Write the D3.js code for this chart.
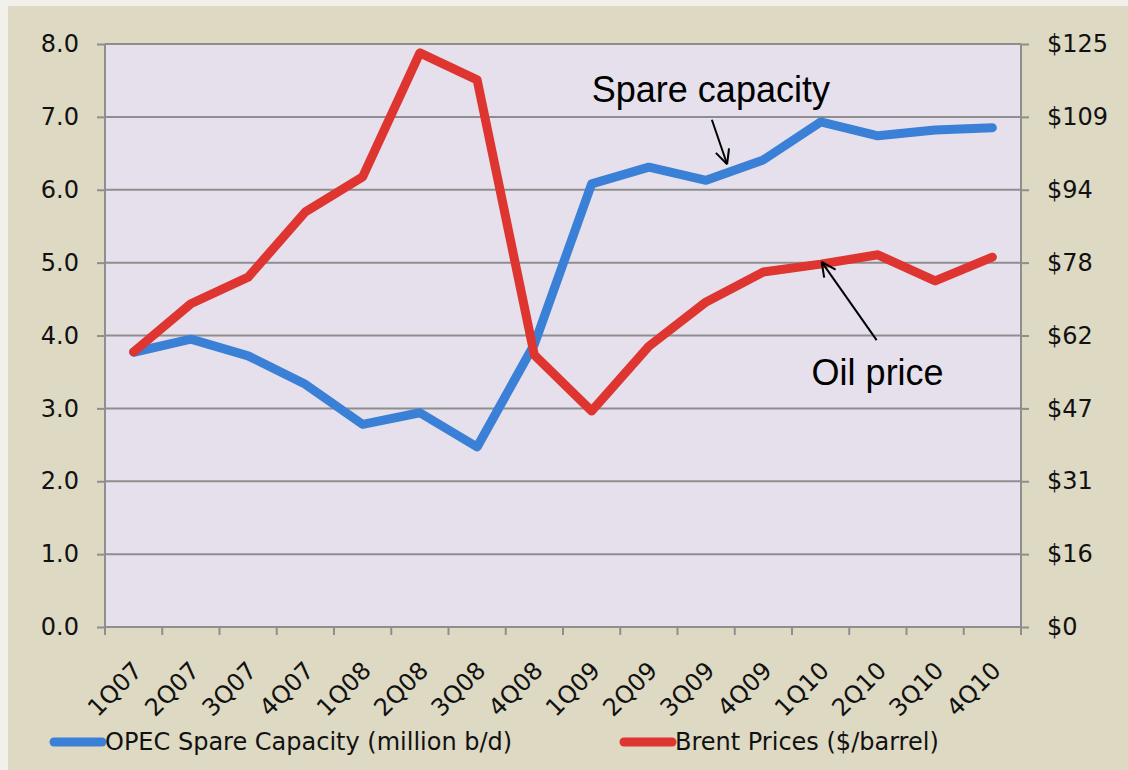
<!DOCTYPE html>
<html>
<head>
<meta charset="utf-8">
<script src="https://d3js.org/d3.v7.min.js"></script>
<style>
  html, body { margin: 0; padding: 0; background: #f1f0ea; }
  svg { display: block; }
</style>
</head>
<body>
<div id="chart"></div>
<script>
// quarters on the x axis
const quarters = ['1Q07', '2Q07', '3Q07', '4Q07', '1Q08', '2Q08', '3Q08', '4Q08',
  '1Q09', '2Q09', '3Q09', '4Q09', '1Q10', '2Q10', '3Q10', '4Q10'];

// OPEC spare capacity, million b/d (left axis)
const spareCapacity = [3.77, 3.95, 3.72, 3.33, 2.78, 2.94, 2.47, 3.88,
  6.08, 6.31, 6.13, 6.41, 6.93, 6.74, 6.82, 6.85];

// Brent price, $/barrel (right axis)
const brentPrice = [59.0, 69.3, 75.0, 89.0, 96.5, 123.1, 117.3, 58.3,
  46.3, 60.2, 69.7, 76.1, 77.8, 79.8, 74.2, 79.3];

const leftTicks = [0, 1, 2, 3, 4, 5, 6, 7, 8];
const rightTickLabels = ['$0', '$16', '$31', '$47', '$62', '$78', '$94', '$109', '$125'];

const seriesNames = ['OPEC Spare Capacity (million b/d)', 'Brent Prices ($/barrel)'];

const width = 1128, height = 770;
const margin = { top: 44, right: 107, bottom: 143, left: 105 };
const blue = '#3a80d6', red = '#de3531', grid = '#8e8e8e';

const svg = d3.select('#chart').append('svg')
  .attr('width', width)
  .attr('height', height);

// beige frame
svg.append('rect')
  .attr('x', 8).attr('y', 6)
  .attr('width', width - 8).attr('height', height - 6)
  .attr('fill', '#ddd9c3');

const plotW = width - margin.left - margin.right;
const plotH = height - margin.top - margin.bottom;

const g = svg.append('g')
  .attr('transform', `translate(${margin.left},${margin.top})`);

g.append('rect')
  .attr('width', plotW).attr('height', plotH)
  .attr('fill', '#e5e0ec');

const x = d3.scaleBand().domain(quarters).range([0, plotW]);
const yLeft = d3.scaleLinear().domain([0, 8]).range([plotH, 0]);
const yRight = d3.scaleLinear().domain([0, 125]).range([plotH, 0]);

// gridlines
g.append('g')
  .selectAll('line')
  .data(leftTicks)
  .enter().append('line')
  .attr('x1', 0).attr('x2', plotW)
  .attr('y1', d => yLeft(d)).attr('y2', d => yLeft(d))
  .attr('stroke', grid)
  .attr('stroke-width', 2);

const tickFont = '"DejaVu Sans", Verdana, sans-serif';
const tickSize = 24;

// left axis
const leftAxis = g.append('g')
  .call(d3.axisLeft(yLeft).tickValues(leftTicks).tickFormat(d3.format('.1f')).tickSize(8).tickPadding(18));

// right axis
const rightAxis = g.append('g')
  .attr('transform', `translate(${plotW},0)`)
  .call(d3.axisRight(yLeft).tickValues(leftTicks).tickFormat((d, i) => rightTickLabels[i]).tickSize(8).tickPadding(18));

// bottom axis: ticks on category boundaries
const bottomAxis = g.append('g')
  .attr('transform', `translate(0,${plotH})`);
bottomAxis.append('line')
  .attr('x1', 0).attr('x2', plotW)
  .attr('stroke', grid).attr('stroke-width', 2);
bottomAxis.selectAll('.qtick')
  .data(d3.range(quarters.length + 1))
  .enter().append('line')
  .attr('class', 'qtick')
  .attr('x1', d => d * x.step()).attr('x2', d => d * x.step())
  .attr('y1', 0).attr('y2', 8)
  .attr('stroke', grid).attr('stroke-width', 2);
bottomAxis.selectAll('text')
  .data(quarters)
  .enter().append('text')
  .attr('transform', d => `translate(${x(d) + x.bandwidth() / 2 + 10},${45}) rotate(-45)`)
  .attr('text-anchor', 'end')
  .attr('font-family', tickFont)
  .attr('font-size', tickSize)
  .attr('fill', '#111')
  .text(d => d);

[leftAxis, rightAxis].forEach(ax => {
  ax.select('.domain').attr('stroke', grid).attr('stroke-width', 2);
  ax.selectAll('.tick line').attr('stroke', grid).attr('stroke-width', 2);
  ax.selectAll('.tick text')
    .attr('font-family', tickFont)
    .attr('font-size', tickSize)
    .attr('fill', '#111');
});
leftAxis.select('.domain').attr('d', `M0,0V${plotH}`);
rightAxis.select('.domain').attr('d', `M0,0V${plotH}`);
rightAxis.selectAll('.tick text').attr('x', 26);
leftAxis.selectAll('.tick text').attr('x', -26);

// lines
const cx = d => x(d) + x.bandwidth() / 2;

const blueLine = d3.line()
  .x((d, i) => cx(quarters[i]))
  .y(d => yLeft(d));
const redLine = d3.line()
  .x((d, i) => cx(quarters[i]))
  .y(d => yRight(d));

g.append('path')
  .datum(spareCapacity)
  .attr('d', blueLine)
  .attr('fill', 'none')
  .attr('stroke', blue)
  .attr('stroke-width', 9)
  .attr('stroke-linejoin', 'round')
  .attr('stroke-linecap', 'round');

g.append('path')
  .datum(brentPrice)
  .attr('d', redLine)
  .attr('fill', 'none')
  .attr('stroke', red)
  .attr('stroke-width', 9)
  .attr('stroke-linejoin', 'round')
  .attr('stroke-linecap', 'round');

// annotations
const annFont = '"Liberation Sans", Arial, sans-serif';

function arrow(x1, y1, x2, y2) {
  g.append('line')
    .attr('x1', x1).attr('y1', y1).attr('x2', x2).attr('y2', y2)
    .attr('stroke', '#000').attr('stroke-width', 2);
  const ang = Math.atan2(y2 - y1, x2 - x1);
  const len = 16, spread = 0.45;
  [ang + Math.PI - spread, ang + Math.PI + spread].forEach(a => {
    g.append('line')
      .attr('x1', x2).attr('y1', y2)
      .attr('x2', x2 + len * Math.cos(a)).attr('y2', y2 + len * Math.sin(a))
      .attr('stroke', '#000').attr('stroke-width', 2);
  });
}

// spare capacity label, arrow pointing to 3Q09 segment
g.append('text')
  .attr('x', cx('2Q09') + 62).attr('y', yLeft(7.21))
  .attr('text-anchor', 'middle')
  .attr('font-family', annFont)
  .attr('font-size', 36)
  .text('Spare capacity');
arrow(cx('2Q09') + 63, yLeft(6.96), cx('3Q09') + 21, yLeft(6.35));

// oil price label, arrow pointing to 1Q10 point
g.append('text')
  .attr('x', cx('1Q10') + 57).attr('y', yRight(51.9))
  .attr('text-anchor', 'middle')
  .attr('font-family', annFont)
  .attr('font-size', 36)
  .text('Oil price');
arrow(cx('1Q10') + 56, yRight(61.5), cx('1Q10') + 1, yRight(78.3));

// legend
const legend = svg.append('g').attr('transform', 'translate(0,742)');
const legendItems = [
  { name: seriesNames[0], color: blue, x: 50 },
  { name: seriesNames[1], color: red, x: 620 }
];
legendItems.forEach(item => {
  legend.append('line')
    .attr('x1', item.x + 4).attr('x2', item.x + 52)
    .attr('stroke', item.color)
    .attr('stroke-width', 9)
    .attr('stroke-linecap', 'round');
  legend.append('text')
    .attr('x', item.x + 55)
    .attr('dy', '0.35em')
    .attr('font-family', tickFont)
    .attr('font-size', tickSize)
    .attr('fill', '#111')
    .text(item.name);
});
</script>
</body>
</html>
